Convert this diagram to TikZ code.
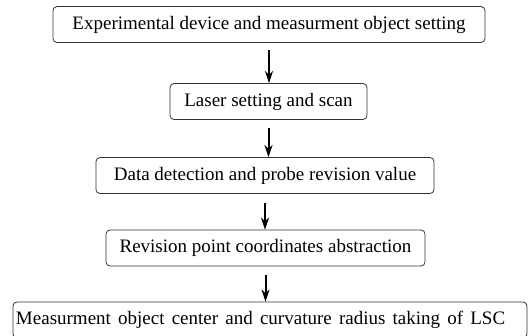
\documentclass[tikz,border=0pt]{standalone}
\usepackage{fontspec}
\setmainfont{Liberation Serif}
\usetikzlibrary{arrows.meta}
\tikzset{stepbox/.style={draw=black!80,line width=0.8pt,rounded corners=4pt,minimum height=36pt,inner sep=0pt,font=\fontsize{19}{22}\selectfont}}
\tikzset{flow/.style={-{Stealth[length=12pt,width=8pt]},line width=2pt}}
\begin{document}
\begin{tikzpicture}[x=1pt,y=1pt]
\useasboundingbox (0,0) rectangle (532,-336);
% boxes
\node[stepbox,minimum width=432pt] (b1) at (269,-24.5) {Experimental device and measurment object setting};
\node[stepbox,minimum width=197pt] (b2) at (268.5,-101.5) {Laser setting and scan};
\node[stepbox,minimum width=338pt] (b3) at (265,-175.5) {Data detection and probe revision value};
\node[stepbox,minimum width=319pt] (b4) at (265.5,-248) {Revision point coordinates abstraction};
\node[stepbox,minimum width=514pt,text width=508pt,inner xsep=3pt,align=left] (b5) at (270,-320) {\spaceskip=7.2pt Measurment object center and curvature radius taking of LSC};
% arrows
\draw[flow] ([yshift=-7pt]b1.south) -- (b1.south |- b2.north);
\draw[flow] ([yshift=-8pt]b2.south) -- (b2.south |- b3.north);
\draw[flow] ([yshift=-9pt]b3.south) -- (b3.south |- b4.north);
\draw[flow] ([yshift=-9pt]b4.south) -- (b4.south |- b5.north);
\end{tikzpicture}
\end{document}
